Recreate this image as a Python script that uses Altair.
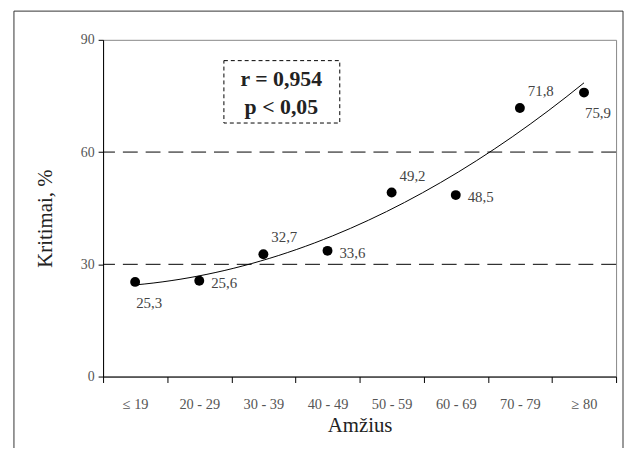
import json
import altair as alt
import pandas as pd

# ---- data ----
categories = ["≤ 19", "20 - 29", "30 - 39", "40 - 49", "50 - 59", "60 - 69", "70 - 79", "≥ 80"]
values = [25.3, 25.6, 32.7, 33.6, 49.2, 48.5, 71.8, 75.9]
label_side = ["below", "right", "above", "right", "above", "right", "above", "below"]
y_ticks = [0, 30, 60, 90]
ref_levels = [30, 60]
stats_lines = ["r = 0,954", "p < 0,05"]

FONT = "Liberation Serif"
W, H = 518, 340
n = len(categories)

df = pd.DataFrame({
    "idx": list(range(1, n + 1)),
    "cat": categories,
    "value": values,
    "side": label_side,
})

x_bounds = [i + 0.5 for i in range(n + 1)]
label_expr = f"datum.value < {n} ? {json.dumps(categories, ensure_ascii=False)}[floor(datum.value)] : ''"

x_enc = alt.X(
    "idx:Q",
    scale=alt.Scale(domain=[0.5, n + 0.5], nice=False, zero=False),
    axis=alt.Axis(
        values=x_bounds, labelExpr=label_expr, labelOffset=W / n / 2,
        labelFlush=False, labelOverlap=False, labelBound=False,
        title="Amžius", titleFont=FONT, titleFontSize=21, titleFontWeight="normal",
        titleColor="#222", titlePadding=4,
        labelFont=FONT, labelFontSize=14.5, labelColor="#555", labelPadding=15,
        tickSize=6, tickColor="black", domainColor="black", grid=False,
    ),
)
y_enc = alt.Y(
    "value:Q",
    scale=alt.Scale(domain=[0, 90], nice=False, zero=True),
    axis=alt.Axis(
        values=y_ticks, title="Kritimai, %", titleFont=FONT, titleFontSize=21,
        titleFontWeight="normal", titleColor="#222", titleX=-48, titleY=H / 2 + 10,
        labelFont=FONT, labelFontSize=14, labelColor="#555", labelPadding=4,
        tickSize=5, tickColor="black", domainColor="black", grid=False,
    ),
)

base = alt.Chart(df).transform_calculate(
    lab="replace(format(datum.value, '.1f'), '.', ',')"
)

frame = alt.Chart(pd.DataFrame({"a": [0]})).mark_rect(
    fill="white", fillOpacity=0, stroke="#333", strokeWidth=1
).encode(x=alt.value(-90), x2=alt.value(525), y=alt.value(-29), y2=alt.value(H + 140))

rules = alt.Chart(pd.DataFrame({"value": ref_levels})).mark_rule(
    color="black", strokeWidth=1, strokeDash=[15, 8]
).encode(y=y_enc)

curve = alt.Chart(df).transform_regression(
    "idx", "value", method="poly", order=2
).mark_line(color="black", strokeWidth=1).encode(x=x_enc, y=y_enc)

points = base.mark_circle(size=100, color="black", opacity=1).encode(x=x_enc, y=y_enc)

offsets = {"below": (1, 21), "right": (12, 2), "above": (8, -17)}
label_layers = []
for side, (dx, dy) in offsets.items():
    label_layers.append(
        base.transform_filter(alt.datum.side == side).mark_text(
            align="left", baseline="middle", dx=dx, dy=dy,
            font=FONT, fontSize=15, color="#444"
        ).encode(x=x_enc, y=y_enc, text="lab:N")
    )

box = alt.Chart(pd.DataFrame({"a": [0]})).mark_rect(
    fill="white", stroke="black", strokeWidth=1, strokeDash=[4, 3]
).encode(x=alt.value(122), x2=alt.value(239), y=alt.value(21), y2=alt.value(84))

stats = []
for i, line in enumerate(stats_lines):
    stats.append(
        alt.Chart(pd.DataFrame({"t": [line]})).mark_text(
            font=FONT, fontSize=22, fontWeight="bold", color="#222",
            align="center", baseline="middle"
        ).encode(x=alt.value(180), y=alt.value(40 + 28 * i), text="t:N")
    )

chart = alt.layer(
    frame, rules, curve, points, *label_layers, box, *stats
).properties(
    width=W, height=H, autosize="none",
    padding={"left": 96, "top": 30, "right": 8, "bottom": 70},
    background="white",
).configure_view(stroke="#888", strokeWidth=1)

chart.save("out.html", embed_options={"renderer": "svg", "actions": False})
